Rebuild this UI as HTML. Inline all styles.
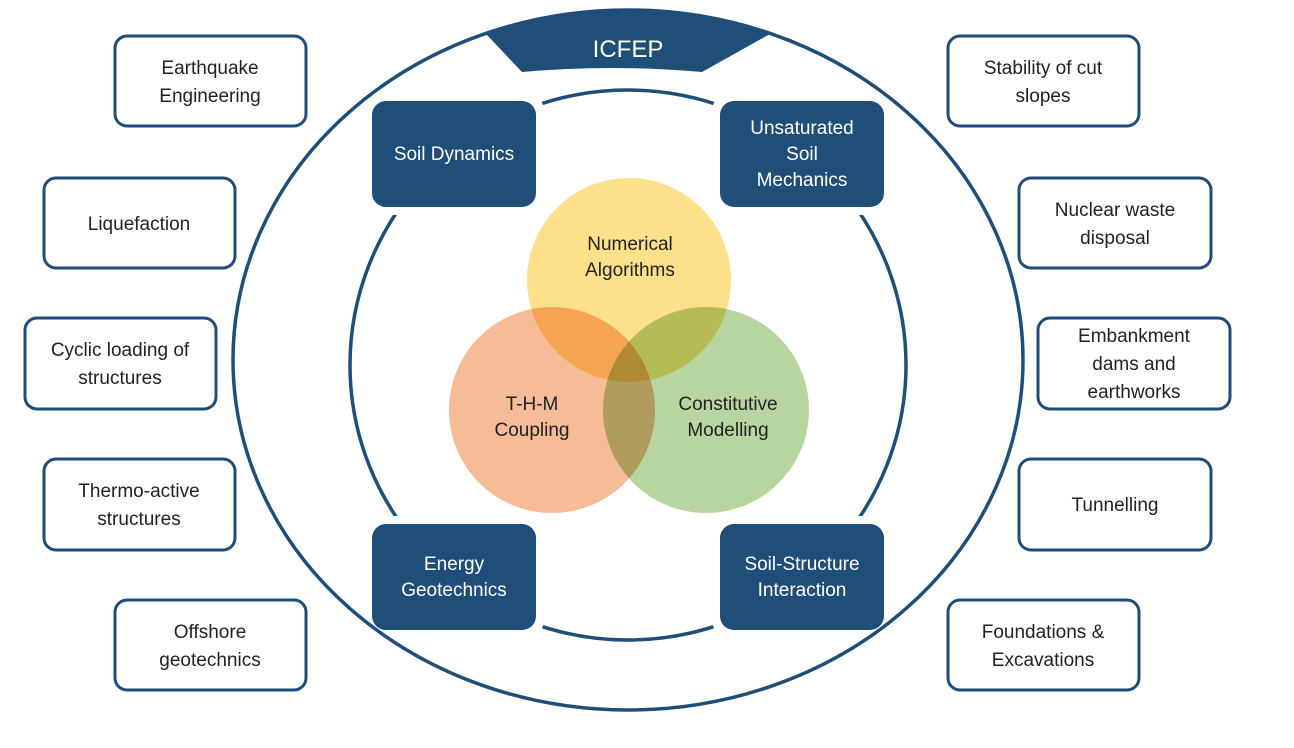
<!DOCTYPE html>
<html><head><meta charset="utf-8"><style>
html,body{margin:0;padding:0;background:#fff;}
svg{display:block;}
text{font-family:"Liberation Sans",sans-serif;}
</style></head><body>
<svg width="1294" height="748" viewBox="0 0 1294 748" xmlns="http://www.w3.org/2000/svg">
<rect width="1294" height="748" fill="#fff"/>
<!-- inner ellipse -->
<ellipse cx="628" cy="365" rx="278" ry="275" fill="none" stroke="#1f4e79" stroke-width="3.5"/>
<!-- venn -->
<g style="isolation:isolate">
<circle cx="629" cy="280" r="103" fill="#fde08a" stroke="#fff" stroke-width="2" style="mix-blend-mode:multiply"/>
<circle cx="552" cy="410" r="104" fill="#f6bb97" stroke="#fff" stroke-width="2" style="mix-blend-mode:multiply"/>
<circle cx="706" cy="410" r="104" fill="#b7d69f" stroke="#fff" stroke-width="2" style="mix-blend-mode:multiply"/>
</g>
<g font-size="19" fill="#222" text-anchor="middle">
<text x="630" y="250">Numerical</text><text x="630" y="276">Algorithms</text>
<text x="532" y="410">T-H-M</text><text x="532" y="436">Coupling</text>
<text x="728" y="410">Constitutive</text><text x="728" y="436">Modelling</text>
</g>
<!-- inner box halos -->
<g fill="#fff">
<rect x="364" y="93" width="180" height="122" rx="18"/>
<rect x="712" y="93" width="180" height="122" rx="18"/>
<rect x="364" y="516" width="180" height="122" rx="18"/>
<rect x="712" y="516" width="180" height="122" rx="18"/>
</g>
<!-- outer ellipse -->
<ellipse cx="628" cy="360" rx="395" ry="350" fill="none" stroke="#1f4e79" stroke-width="3.5"/>
<!-- banner -->
<path d="M486,34 Q628,-16 770,34 L702,72 Q612,64 522,72 Z" fill="#1f4e79"/>
<text x="628" y="57" font-size="24" fill="#fff" text-anchor="middle">ICFEP</text>
<g fill="#1f4e79">
<rect x="372" y="101" width="164" height="106" rx="14"/>
<rect x="720" y="101" width="164" height="106" rx="14"/>
<rect x="372" y="524" width="164" height="106" rx="14"/>
<rect x="720" y="524" width="164" height="106" rx="14"/>
</g>
<g font-size="19" fill="#fff" text-anchor="middle">
<text x="454" y="160">Soil Dynamics</text>
<text x="802" y="134">Unsaturated</text><text x="802" y="160">Soil</text><text x="802" y="186">Mechanics</text>
<text x="454" y="570">Energy</text><text x="454" y="596">Geotechnics</text>
<text x="802" y="570">Soil-Structure</text><text x="802" y="596">Interaction</text>
</g>
<!-- side boxes -->
<g fill="#fff" stroke="#1f4e79" stroke-width="3">
<rect x="115" y="36" width="191" height="90" rx="12"/>
<rect x="44" y="178" width="191" height="90" rx="12"/>
<rect x="25" y="318" width="191" height="91" rx="12"/>
<rect x="44" y="459" width="191" height="91" rx="12"/>
<rect x="115" y="600" width="191" height="90" rx="12"/>
<rect x="948" y="36" width="191" height="90" rx="12"/>
<rect x="1019" y="178" width="192" height="90" rx="12"/>
<rect x="1038" y="318" width="192" height="91" rx="12"/>
<rect x="1019" y="459" width="192" height="91" rx="12"/>
<rect x="948" y="600" width="191" height="90" rx="12"/>
</g>
<g font-size="19" fill="#222" text-anchor="middle">
<text x="210" y="74">Earthquake</text><text x="210" y="102">Engineering</text>
<text x="139" y="230">Liquefaction</text>
<text x="120" y="356">Cyclic loading of</text><text x="120" y="384">structures</text>
<text x="139" y="497">Thermo-active</text><text x="139" y="525">structures</text>
<text x="210" y="638">Offshore</text><text x="210" y="666">geotechnics</text>
<text x="1043" y="74">Stability of cut</text><text x="1043" y="102">slopes</text>
<text x="1115" y="216">Nuclear waste</text><text x="1115" y="244">disposal</text>
<text x="1134" y="342">Embankment</text><text x="1134" y="370">dams and</text><text x="1134" y="398">earthworks</text>
<text x="1115" y="511">Tunnelling</text>
<text x="1043" y="638">Foundations &amp;</text><text x="1043" y="666">Excavations</text>
</g>
</svg>
</body></html>
